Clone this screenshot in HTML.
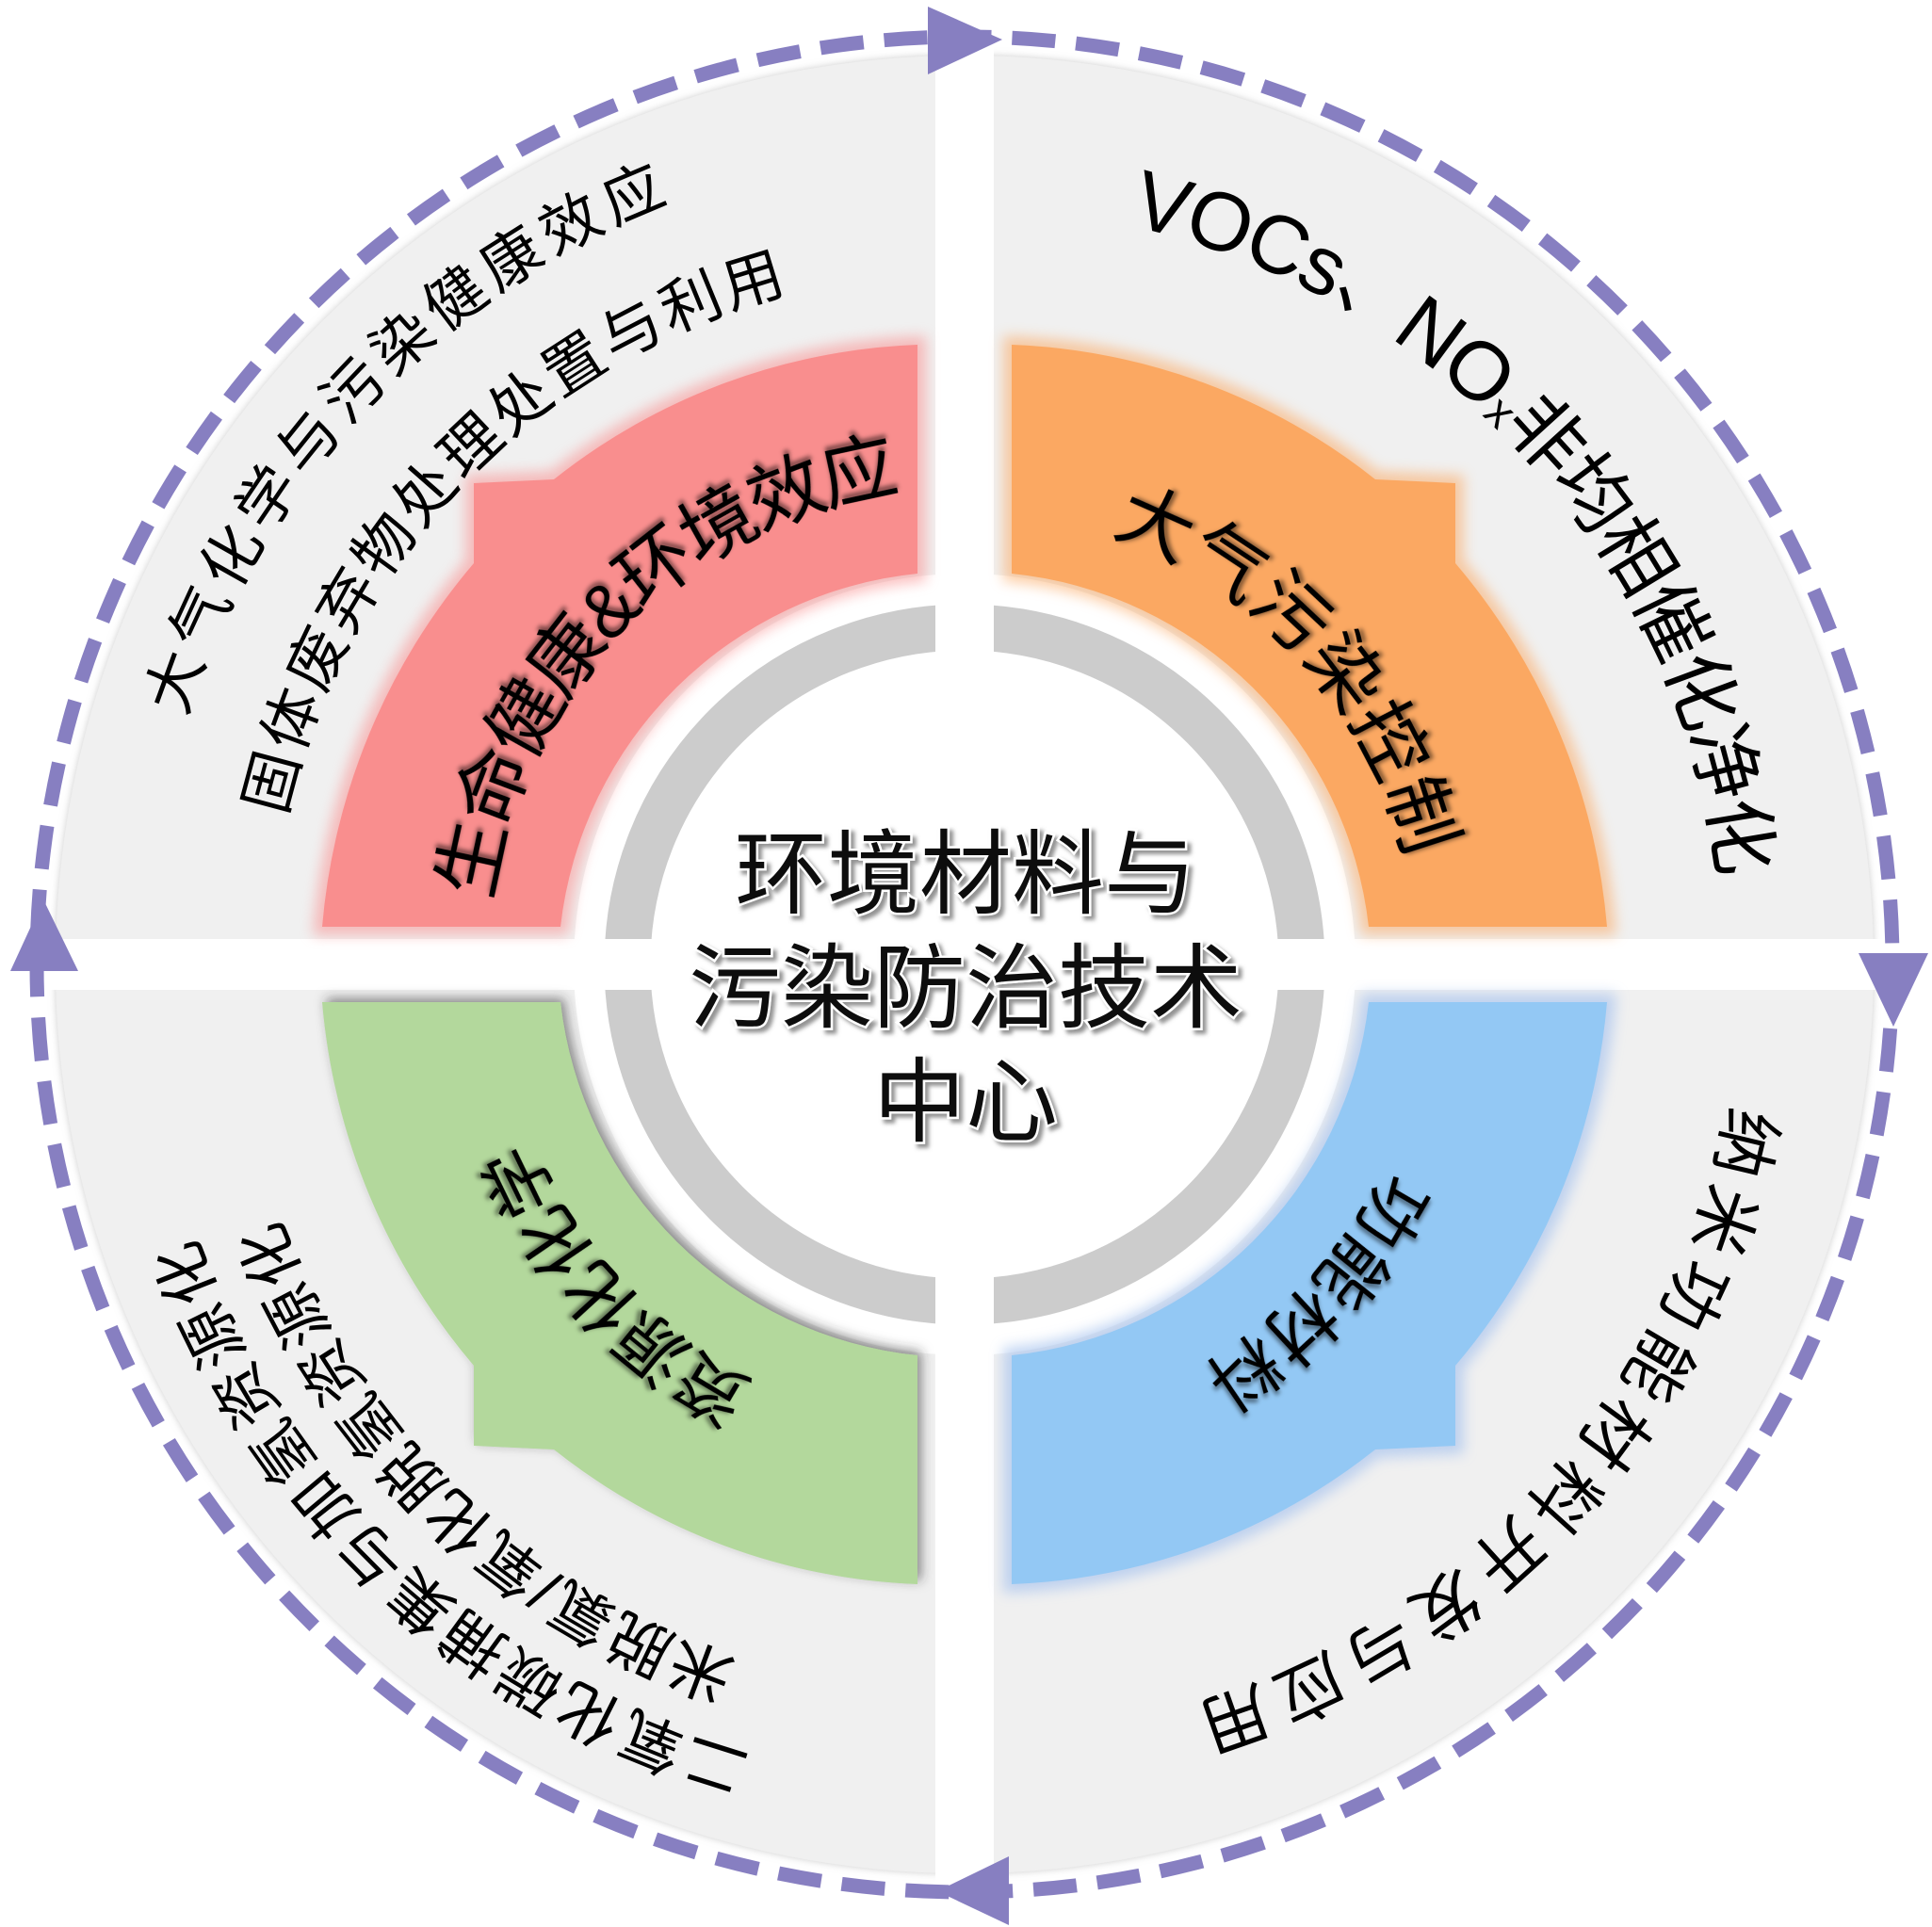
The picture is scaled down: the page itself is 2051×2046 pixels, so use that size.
<!DOCTYPE html>
<html><head><meta charset="utf-8"><style>
html,body{margin:0;padding:0;background:#fff;width:2051px;height:2046px;overflow:hidden;}
svg{display:block;}
text{font-family:"Liberation Sans","Noto Sans CJK SC",sans-serif;}
</style></head><body>
<svg width="2051" height="2046" viewBox="0 0 2051 2046" xmlns="http://www.w3.org/2000/svg">
<defs>
<filter id="glow" x="-20%" y="-20%" width="140%" height="140%">
<feGaussianBlur stdDeviation="7"/>
</filter>
<filter id="shd" x="-20%" y="-20%" width="140%" height="140%">
<feDropShadow dx="4" dy="4" stdDeviation="6" flood-color="#333" flood-opacity="0.55"/>
</filter>
<filter id="tsh" x="-10%" y="-10%" width="120%" height="120%">
<feDropShadow dx="3" dy="3" stdDeviation="2.5" flood-color="#000" flood-opacity="0.5"/>
</filter>
<filter id="csh" x="-10%" y="-10%" width="120%" height="120%">
<feDropShadow dx="4" dy="4" stdDeviation="2" flood-color="#777" flood-opacity="0.8"/>
</filter>
<filter id="bg" x="-5%" y="-5%" width="110%" height="110%">
<feDropShadow dx="0" dy="0" stdDeviation="4" flood-color="#999" flood-opacity="0.5"/>
</filter>
<path id="band" d="M974,366 A660,660 0 0 0 588,509 L503,513 L503,598 A685,685 0 0 0 342,984 L595,984 A425,425 0 0 1 974,609 Z"/>
</defs>

<circle cx="1024" cy="1024" r="965" fill="#f0f0f0" filter="url(#bg)"/>
<circle cx="1024" cy="1024" r="415" fill="#fff"/>
<circle cx="1024" cy="1024" r="358" fill="none" stroke="#cccccc" stroke-width="49"/>
<rect x="993" y="0" width="62" height="2046" fill="#fff"/>
<rect x="0" y="997" width="2051" height="54" fill="#fff"/>

<circle cx="1024" cy="1024" r="985" fill="none" stroke="#877fc1" stroke-width="15" stroke-dasharray="46 22"/>
<polygon points="1064,42 985,7 985,79" fill="#877fc1"/>
<polygon points="2010,1090 1973,1012 2047,1012" fill="#877fc1"/>
<polygon points="995,2008 1071,1971 1071,2044" fill="#877fc1"/>
<polygon points="46,955 11,1031 83,1031" fill="#877fc1"/>

<g>
<use href="#band" fill="#f98e8e" stroke="#f98e8e" stroke-width="18" opacity="0.55" filter="url(#glow)"/>
<use href="#band" fill="#f98e8e"/>
</g>
<g transform="translate(2048,0) scale(-1,1)">
<use href="#band" fill="#fba862" stroke="#fba862" stroke-width="18" opacity="0.55" filter="url(#glow)"/>
<use href="#band" fill="#fba862"/>
</g>
<g transform="translate(0,2048) scale(1,-1)">
<use href="#band" fill="#b3d89c" filter="url(#shd)"/>
</g>
<g transform="translate(2048,2048) scale(-1,-1)">
<use href="#band" fill="#a9c4ee" stroke="#a9c4ee" stroke-width="18" opacity="0.7" filter="url(#glow)"/>
<use href="#band" fill="#93c8f4"/>
</g>

<g transform="rotate(223.5 1024 1024)">
<path id="p1" d="M134,1024 A890,890 0 0 1 1914,1024 A890,890 0 0 1 134,1024" fill="none"/>
<text font-size="64" dominant-baseline="central" letter-spacing="9"><textPath href="#p1" startOffset="50%" text-anchor="middle">大气化学与污染健康效应</textPath></text>
</g>
<g transform="rotate(224 1024 1024)">
<path id="p2" d="M264,1024 A760,760 0 0 1 1784,1024 A760,760 0 0 1 264,1024" fill="none"/>
<text font-size="64" dominant-baseline="central" letter-spacing="6"><textPath href="#p2" startOffset="50%" text-anchor="middle">固体废弃物处理处置与利用</textPath></text>
</g>
<g transform="rotate(318 1024 1024)">
<path id="p3" d="M189,1024 A835,835 0 0 1 1859,1024 A835,835 0 0 1 189,1024" fill="none"/>
<text font-size="80" dominant-baseline="central" letter-spacing="0"><textPath href="#p3" startOffset="50%" text-anchor="middle"><tspan font-size="88">VOCs</tspan>、<tspan font-size="88">NO</tspan><tspan font-size="48" dy="18">x</tspan><tspan dy="-18">非均相催化净化</tspan></textPath></text>
</g>
<g transform="rotate(42 1024 1024)">
<path id="p4" d="M174,1024 A850,850 0 0 1 1874,1024 A850,850 0 0 1 174,1024" fill="none"/>
<text font-size="72" dominant-baseline="central" letter-spacing="13"><textPath href="#p4" startOffset="50%" text-anchor="middle">纳米功能材料开发与应用</textPath></text>
</g>
<g transform="rotate(133 1024 1024)">
<path id="p5" d="M134,1024 A890,890 0 0 1 1914,1024 A890,890 0 0 1 134,1024" fill="none"/>
<text font-size="66" dominant-baseline="central" letter-spacing="6"><textPath href="#p5" startOffset="50%" text-anchor="middle">二氧化碳捕集与加氢资源化</textPath></text>
</g>
<g transform="rotate(134 1024 1024)">
<path id="p6" d="M224,1024 A800,800 0 0 1 1824,1024 A800,800 0 0 1 224,1024" fill="none"/>
<text font-size="66" dominant-baseline="central" letter-spacing="4"><textPath href="#p6" startOffset="50%" text-anchor="middle">米脱氯/氧化脱氢资源化</textPath></text>
</g>

<g transform="rotate(225 1024 1024)" filter="url(#tsh)">
<path id="q1" d="M489,1024 A535,535 0 0 1 1559,1024 A535,535 0 0 1 489,1024" fill="none"/>
<text font-size="80" dominant-baseline="central"><textPath href="#q1" startOffset="50%" text-anchor="middle">生命健康&amp;环境效应</textPath></text>
</g>
<g transform="rotate(318 1024 1024)" filter="url(#tsh)">
<path id="q2" d="M514,1024 A510,510 0 0 1 1534,1024 A510,510 0 0 1 514,1024" fill="none"/>
<text font-size="80" dominant-baseline="central" letter-spacing="6"><textPath href="#q2" startOffset="50%" text-anchor="middle">大气污染控制</textPath></text>
</g>
<g transform="rotate(137.5 1024 1024)" filter="url(#tsh)">
<path id="q3" d="M499,1024 A525,525 0 0 1 1549,1024 A525,525 0 0 1 499,1024" fill="none"/>
<text font-size="74" dominant-baseline="central" letter-spacing="2"><textPath href="#q3" startOffset="50%" text-anchor="middle">资源化化学</textPath></text>
</g>
<g transform="rotate(43 1024 1024)" filter="url(#tsh)">
<path id="q4" d="M499,1024 A525,525 0 0 1 1549,1024 A525,525 0 0 1 499,1024" fill="none"/>
<text font-size="74" dominant-baseline="central" letter-spacing="4"><textPath href="#q4" startOffset="50%" text-anchor="middle">功能材料</textPath></text>
</g>

<g filter="url(#csh)" font-size="98" text-anchor="middle" fill="#111" stroke="#fff" stroke-width="5" paint-order="stroke">
<text x="1025" y="962">环境材料与</text>
<text x="1025" y="1083">污染防治技术</text>
<text x="1025" y="1204">中心</text>
</g>
</svg>
</body></html>
